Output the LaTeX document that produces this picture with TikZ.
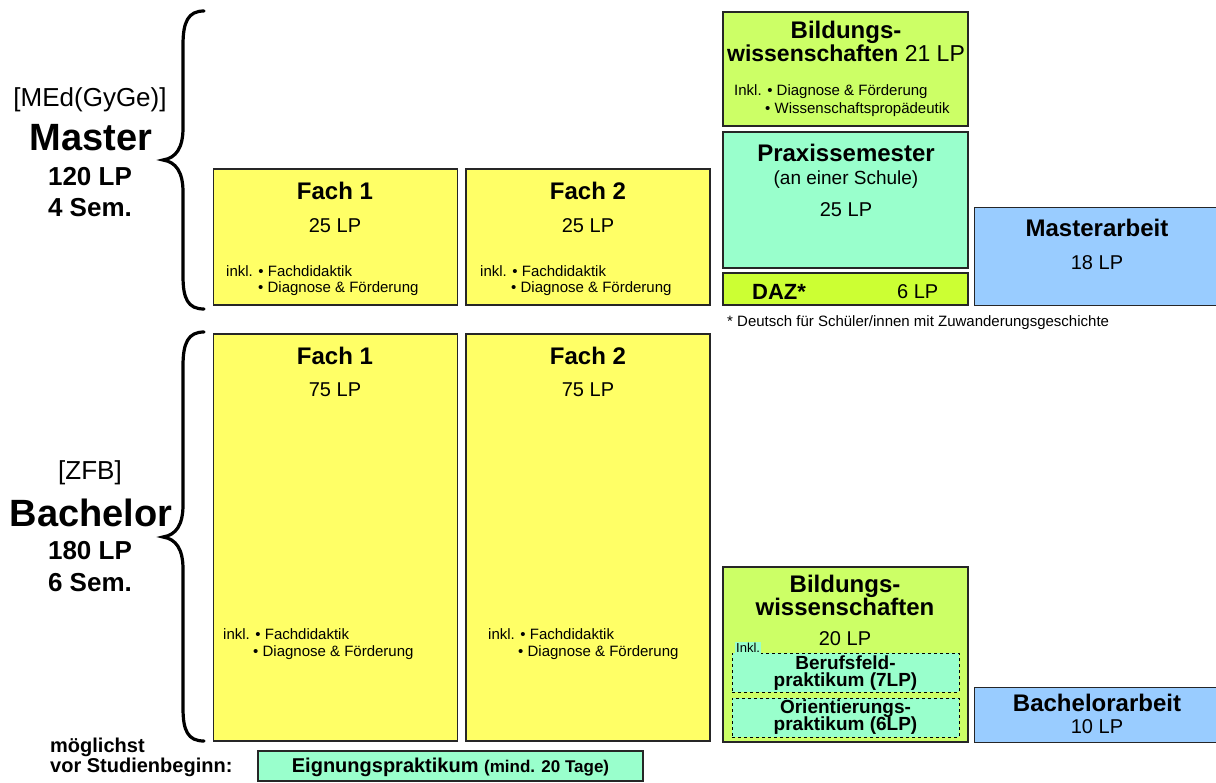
\documentclass[tikz,border=0pt]{standalone}
\usepackage{fontspec}
\setmainfont{Liberation Sans}
\definecolor{fachY}{HTML}{FFFF66}
\definecolor{bildG}{HTML}{CCFF66}
\definecolor{praxC}{HTML}{99FFCC}
\definecolor{dazG}{HTML}{CCFF33}
\definecolor{arbB}{HTML}{99CCFF}
\begin{document}
\begin{tikzpicture}[x=1pt,y=-1pt,
  box/.style={draw=black!85,line width=1.2pt,inner sep=0pt,rectangle},
  innerbox/.style={draw=black,dashed,line width=0.9pt,fill=praxC,inner sep=0pt},
  hd/.style={font=\fontsize{24}{26}\selectfont\bfseries,inner sep=0pt},
  lp/.style={font=\fontsize{20}{22}\selectfont,inner sep=0pt},
  sm/.style={font=\fontsize{15}{17}\selectfont,inner sep=0pt,anchor=west},
  big/.style={font=\fontsize{38}{40}\selectfont\bfseries,inner sep=0pt},
  mid/.style={font=\fontsize{26}{28}\selectfont\bfseries,inner sep=0pt},
  bracket/.style={font=\fontsize{26}{28}\selectfont,inner sep=0pt},
  brace/.style={line width=3.2pt,line cap=round}]
\useasboundingbox (0,0) rectangle (1216,783);
% ---------- Master ----------
\node[box,fill=fachY,minimum width=244,minimum height=136] (mf1) at (335.5,237) {};
\node[box,fill=fachY,minimum width=244,minimum height=136] (mf2) at (588,237) {};
\node[box,fill=bildG,minimum width=245,minimum height=114] (mbw) at (845.5,69) {};
\node[box,fill=praxC,minimum width=245,minimum height=136] (mpx) at (845.5,200) {};
\node[box,fill=dazG,minimum width=245,minimum height=32] (mdaz) at (845.5,289) {};
\node[box,fill=arbB,minimum width=246,minimum height=98,anchor=north west] (mma) at (974,207) {};

\node[hd] (mf1t) at (335,191) {Fach 1};
\node[lp] (mf1l) at (335,226) {25 LP};
\node[sm] (mf1a) at (226,271) {inkl. • Fachdidaktik};
\node[sm] (mf1b) at (258,289) {• Diagnose \& Förderung};
\node[hd] (mf2t) at (588,191) {Fach 2};
\node[lp] (mf2l) at (588,226) {25 LP};
\node[sm] (mf2a) at (480,271) {inkl. • Fachdidaktik};
\node[sm] (mf2b) at (511,289) {• Diagnose \& Förderung};

\node[hd,anchor=base] (mbw1) at (846,39) {Bildungs-};
\node[inner sep=0pt,anchor=base] (mbw2) at (846,62) {\fontsize{23}{25}\selectfont\textbf{wissenschaften} 21 LP};
\node[sm] (mbw3) at (734,92) {Inkl. • Diagnose \& Förderung};
\node[sm] (mbw4) at (765,110) {• Wissenschaftspropädeutik};

\node[hd] (mpx1) at (846,153) {Praxissemester};
\node[lp,font=\fontsize{19}{21}\selectfont] (mpx2) at (846,180) {(an einer Schule)};
\node[lp] (mpx3) at (846,210) {25 LP};

\node[hd,font=\fontsize{22}{24}\selectfont\bfseries,anchor=west] (mdaz1) at (752,292) {DAZ*};
\node[lp,anchor=west] (mdaz2) at (897,292) {6 LP};

\node[hd] (mma1) at (1097,228) {Masterarbeit};
\node[lp] (mma2) at (1097,263) {18 LP};

\node[font=\fontsize{15}{16}\selectfont,inner sep=0pt,anchor=west] (fn) at (727,323) {* Deutsch für Schüler/innen mit Zuwanderungsgeschichte};

\node[bracket] (medl) at (90,100) {[MEd(GyGe)]};
\node[big] (mas) at (91,138) {Master};
\node[mid] (mlp) at (90,177) {120 LP};
\node[mid] (msem) at (90,208) {4 Sem.};

\draw[brace] (204,11) .. controls (188,11) and (183,22) .. (183,45) -- (183,128)
  .. controls (183,148) and (176,158) .. (163,160)
  .. controls (176,162) and (183,172) .. (183,192) -- (183,276)
  .. controls (183,299) and (188,309) .. (204,309);

% ---------- Bachelor ----------
\node[box,fill=fachY,minimum width=244,minimum height=407] (bf1) at (335.5,537.5) {};
\node[box,fill=fachY,minimum width=244,minimum height=407] (bf2) at (588,537.5) {};
\node[box,fill=bildG,minimum width=245,minimum height=175] (bbw) at (845.5,654.5) {};
\node[box,fill=arbB,minimum width=246,minimum height=55,anchor=north west] (bba) at (974,687) {};

\node[hd] (bf1t) at (335,356) {Fach 1};
\node[lp] (bf1l) at (335,390) {75 LP};
\node[sm] (bf1a) at (223,634) {inkl. • Fachdidaktik};
\node[sm] (bf1b) at (253,653) {• Diagnose \& Förderung};
\node[hd] (bf2t) at (588,356) {Fach 2};
\node[lp] (bf2l) at (588,390) {75 LP};
\node[sm] (bf2a) at (488,634) {inkl. • Fachdidaktik};
\node[sm] (bf2b) at (518,653) {• Diagnose \& Förderung};

\node[hd,anchor=base] (bbw1) at (845,592) {Bildungs-};
\node[hd,anchor=base] (bbw2) at (845,615) {wissenschaften};
\node[lp,anchor=base] (bbw3) at (845,645) {20 LP};
\node[innerbox,minimum width=227,minimum height=39] (bbp) at (845.5,672.5) {};
\node[innerbox,minimum width=227,minimum height=39] (bop) at (845.5,717.5) {};
\node[fill=praxC,font=\fontsize{13}{14}\selectfont,inner sep=1pt,anchor=south west] (inkl) at (735,654) {Inkl.};
\node[font=\fontsize{19}{20}\selectfont\bfseries,inner sep=0pt,align=center] (bbpt) at (845.5,673) {Berufsfeld-\\[-3pt]praktikum (7LP)};
\node[font=\fontsize{19}{20}\selectfont\bfseries,inner sep=0pt,align=center] (bopt) at (845.5,717) {Orientierungs-\\[-3pt]praktikum (6LP)};

\node[hd] (bba1) at (1097,703) {Bachelorarbeit};
\node[lp] (bba2) at (1097,727) {10 LP};

\node[bracket] (zfb) at (90,473) {[ZFB]};
\node[big] (bac) at (91,513) {Bachelor};
\node[mid] (blp) at (90,551) {180 LP};
\node[mid] (bsem) at (90,583) {6 Sem.};

\draw[brace] (204,332) .. controls (188,332) and (183,343) .. (183,366) -- (183,505)
  .. controls (183,525) and (176,535) .. (163,537)
  .. controls (176,539) and (183,549) .. (183,569) -- (183,708)
  .. controls (183,731) and (188,741) .. (204,741);

% ---------- Eignungspraktikum ----------
\node[font=\fontsize{20}{22}\selectfont\bfseries,inner sep=0pt,anchor=west,align=left] (vor) at (50,757) {möglichst\\[-2pt]vor Studienbeginn:};
\node[box,fill=praxC,minimum width=385,minimum height=30] (eig) at (450.5,766) {};
\node[inner sep=0pt] (eigt) at (450.5,767) {\fontsize{20}{21}\selectfont\bfseries Eignungspraktikum {\fontsize{17}{18}\selectfont(mind. 20 Tage)}};
\end{tikzpicture}
\end{document}
